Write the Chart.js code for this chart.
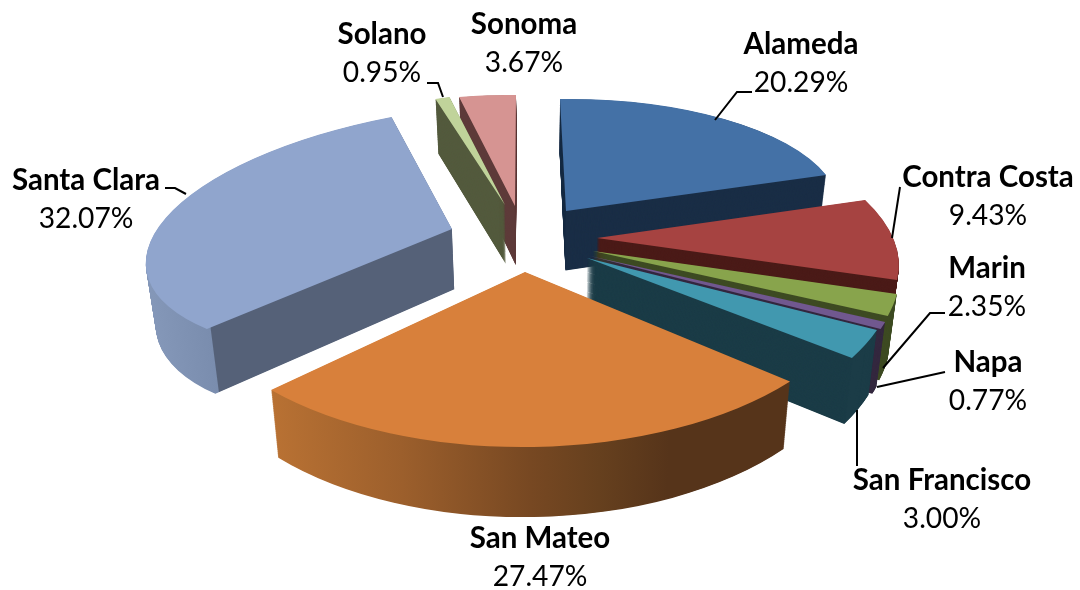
<!DOCTYPE html>
<html>
<head>
<meta charset="utf-8">
<style>
  html, body { margin: 0; padding: 0; background: #fff; }
  canvas { display: block; }
</style>
<script src="https://cdn.jsdelivr.net/npm/chart.js@4/dist/chart.umd.min.js"></script>
</head>
<body>
<canvas id="countyPie" width="1080" height="590"></canvas>
<script>
// Data
const categories = ['Alameda', 'Contra Costa', 'Marin', 'Napa', 'San Francisco', 'San Mateo', 'Santa Clara', 'Solano', 'Sonoma'];
const shares = [20.29, 9.43, 2.35, 0.77, 3.00, 27.47, 32.07, 0.95, 3.67];

// Colours
const topColors = ['#4471A6', '#A64341', '#88A44C', '#71588F', '#4198AF', '#D8803B', '#90A5CD', '#C0D39A', '#D69492'];
const wallStops = [
    [[0, '#1A2E46']],
    [[0, '#4B1B18']],
    [[0, '#3E4B23']],
    [[0, '#34283F']],
    [[0, '#1B3C47']],
    [[272, '#B87133'], [400, '#9C5F2C'], [530, '#774822'], [600, '#66401E'], [670, '#56341A'], [791, '#56341A']],
    [[150, '#8497B8'], [210, '#7A8DAE'], [211, '#556178'], [460, '#556178']],
    [[0, '#535A3D']],
    [[0, '#5E3B3A']]
];

// Each slice is exploded to its own tip and flattened by its own matrix, Chart.js only knows a flat pie
const tips = [[566, 211], [597, 238], [593, 251], [590, 256], [587, 258], [525, 272], [452, 229], [505, 205], [515, 206]];
const tilts = [
    [273.7, -3.5, 6, 112],
    [297, 2.1, 54.8, 137],
    [301.8, -3.5, 51.9, 158.5],
    [303, -3, 50, 160],
    [305.6, -10.5, 43.7, 171.7],
    [341.6, -0.8, -0.6, 175],
    [305, -23, -28, 123.8],
    [243, -4.5, 0, 112],
    [249, 4.1, -1, 111]
];
const drawOrder = [8, 7, 6, 0, 1, 2, 3, 4, 5]; // back to front

// Label placement: centre x, name y (value sits one line below), leader line
const labelSpots = [
    { x: 801, y: 44, leader: [[752, 92], [737, 92], [715, 120]] },
    { x: 988, y: 177, leader: [[900, 187], [892, 238]] },
    { x: 987, y: 268, leader: [[945, 313], [930, 313], [883, 368]] },
    { x: 988, y: 362, leader: [[945, 372], [877, 387]] },
    { x: 942, y: 480, leader: [[857, 466], [857, 410]] },
    { x: 540, y: 538, leader: null },
    { x: 86, y: 180, leader: [[165, 188], [175, 188], [186, 194]] },
    { x: 382, y: 34, leader: [[427, 83], [438, 83], [443, 97]] },
    { x: 524, y: 24, leader: null }
];

const DEPTH_LAYERS = 120;
const VANISH_X = 545;

function applySlice(ctx, arc, i) {
    const [a, b, c, d] = tilts[i];
    const R = arc.outerRadius;
    ctx.translate(tips[i][0], tips[i][1]);
    ctx.transform(a / R, b / R, c / R, d / R, 0, 0);
    ctx.translate(-arc.x, -arc.y);
}

// gradient that runs left to right on screen, built in the arc's own coordinates
function wallFill(ctx, arc, i) {
    const stops = wallStops[i];
    if (stops.length === 1) return stops[0][1];
    const [a, , c] = tilts[i];
    const R = arc.outerRadius;
    const k = R / (a * a + c * c);
    const x0 = stops[0][0] - tips[i][0];
    const x1 = stops[stops.length - 1][0] - tips[i][0];
    const grad = ctx.createLinearGradient(arc.x + x0 * a * k, arc.y + x0 * c * k, arc.x + x1 * a * k, arc.y + x1 * c * k);
    stops.forEach(s => grad.addColorStop((s[0] - stops[0][0]) / (stops[stops.length - 1][0] - stops[0][0]), s[1]));
    return grad;
}

const pie3d = {
    id: 'pie3d',
    beforeDatasetDraw(chart, args) {
        const ctx = chart.ctx;
        const arcs = args.meta.data;
        drawOrder.forEach(i => {
            const arc = arcs[i];
            const wall = Object.create(arc);
            wall.options = { ...arc.options, backgroundColor: wallFill(ctx, arc, i) };
            for (let n = DEPTH_LAYERS; n > 0; n--) {
                const t = n / DEPTH_LAYERS;
                const sx = 1 - 0.025 * t;
                ctx.save();
                ctx.translate(VANISH_X * (1 - sx), 50 * t);
                ctx.scale(sx, 1 + 0.045 * t);
                applySlice(ctx, arc, i);
                wall.draw(ctx);
                ctx.restore();
            }
            ctx.save();
            applySlice(ctx, arc, i);
            arc.draw(ctx);
            ctx.restore();
        });
        return false;
    },
    afterDatasetsDraw(chart) {
        const ctx = chart.ctx;
        ctx.save();
        ctx.fillStyle = '#000';
        ctx.textAlign = 'center';
        ctx.textBaseline = 'middle';
        categories.forEach((name, i) => {
            const spot = labelSpots[i];
            ctx.font = 'bold 29.5px Lato';
            ctx.fillText(name, spot.x, spot.y);
            ctx.font = '28.2px Lato';
            ctx.fillText(shares[i].toFixed(2) + '%', spot.x, spot.y + 39);
            if (spot.leader) {
                ctx.beginPath();
                spot.leader.forEach((p, j) => j ? ctx.lineTo(p[0], p[1]) : ctx.moveTo(p[0], p[1]));
                ctx.strokeStyle = '#000';
                ctx.lineWidth = 2;
                ctx.stroke();
            }
        });
        ctx.restore();
    }
};

new Chart(document.getElementById('countyPie'), {
    type: 'pie',
    data: {
        labels: categories,
        datasets: [{
            data: shares,
            backgroundColor: topColors,
            borderWidth: 0
        }]
    },
    options: {
        responsive: false,
        animation: false,
        rotation: 0,
        plugins: {
            legend: { display: false },
            tooltip: { enabled: false }
        }
    },
    plugins: [pie3d]
});
</script>
</body>
</html>
